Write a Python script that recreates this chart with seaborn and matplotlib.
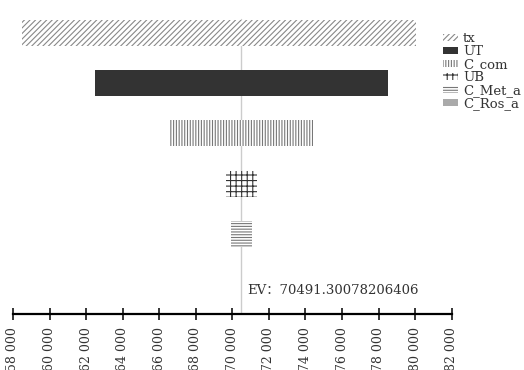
import numpy as np
import pandas as pd
import matplotlib
matplotlib.use('Agg')
import matplotlib.pyplot as plt
import seaborn as sns
from matplotlib.patches import Patch
from matplotlib.ticker import FuncFormatter

# 数据：各参数的低/高取值对应的结果
params = ['tx', 'UT', 'C_com', 'UB', 'C_Met_a', 'C_Ros_a']
low_vals = [58490, 62490, 66590, 69650, 69925, 70491.3]
high_vals = [80050, 78510, 74410, 71350, 71060, 70491.3]
ev = 70491.30078206406
ticks = list(range(58000, 82001, 2000))

df = pd.DataFrame({'param': params, 'low': low_vals, 'high': high_vals})
df['width'] = df['high'] - df['low']

sns.set_style('white')
plt.rcParams['font.family'] = ['DejaVu Serif', 'Noto Sans CJK SC']
plt.rcParams['hatch.linewidth'] = 0.8

# 样式：填充色 / 图案 / 图案颜色
faces = ['white', '#333333', 'white', 'white', 'white', '#aaaaaa']
hatches = ['//////', '', '||||||', '+++', '------', '']
hcolors = ['#888888', '#333333', '#777777', '#333333', '#777777', '#aaaaaa']

fig = plt.figure(figsize=(5.24, 3.7), dpi=100)
ax = fig.add_axes([13 / 524, 1 - 314 / 370, 438.7 / 524, 314 / 370])

ypos = np.arange(len(params))
for i, row in df.iterrows():
    ax.barh(ypos[i], row['width'], left=row['low'], height=0.52,
            color=faces[i], hatch=hatches[i], edgecolor=hcolors[i], linewidth=0)

ax.axvline(ev, ymin=0, ymax=0.94, color='#cccccc', linewidth=1, zorder=0)
ax.text(ev + 350, 5.13, 'EV：' + str(ev), fontsize=9.5, color='#333333',
        va='center', ha='left')

ax.set_xlim(58000, 82000)
ax.set_ylim(5.6, -0.66)
ax.set_xticks(ticks)
ax.xaxis.set_major_formatter(FuncFormatter(lambda v, p: f'{int(v):,}'.replace(',', ' ')))
ax.tick_params(axis='x', direction='inout', length=9, width=1.3, labelsize=9,
               labelrotation=90, pad=5, bottom=True, labelcolor='#333333')
ax.set_yticks([])
for s in ['top', 'right', 'left']:
    ax.spines[s].set_visible(False)
ax.spines['bottom'].set_linewidth(1.6)
ax.spines['bottom'].set_color('black')

handles = [Patch(facecolor=faces[i], hatch=hatches[i], edgecolor=hcolors[i],
                 linewidth=0, label=params[i]) for i in range(len(params))]
fig.legend(handles=handles, loc='upper left', bbox_to_anchor=(438 / 524, 1 - 27 / 370),
           frameon=False, fontsize=9.5, handlelength=1.1, handleheight=0.45,
           handletextpad=0.4, labelspacing=0.0, borderaxespad=0,
           labelcolor='#333333')

fig.savefig('out.png', dpi=100)
